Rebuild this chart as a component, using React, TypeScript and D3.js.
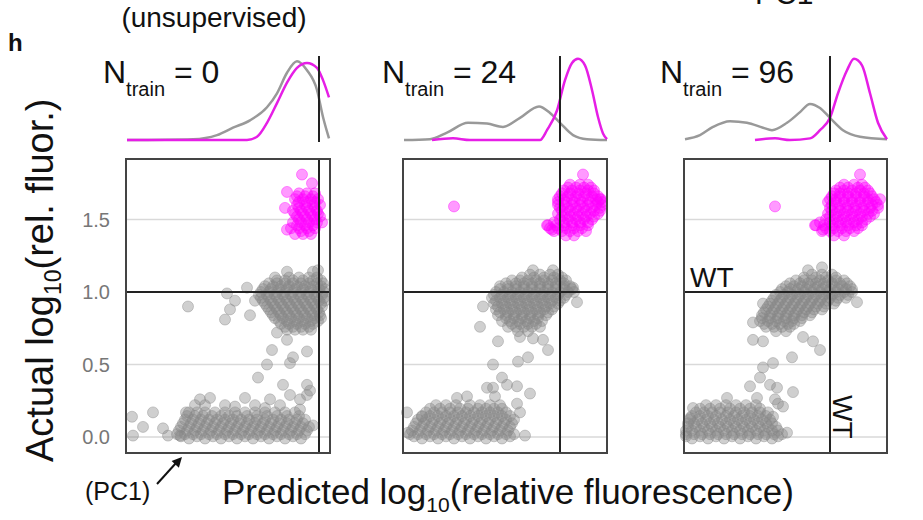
import React from "react";
import * as d3 from "d3";

// ---------- DATA ----------
const trainSizes = ["0", "24", "96"];
const yTicks = [0.0, 0.5, 1.0, 1.5];
const wtValue = 1.0;
const xDomains: [number, number][] = [[-0.93, 1.11], [-0.57, 1.47], [-0.46, 1.57]];
const yDomain: [number, number] = [-0.11, 1.917];

// density curves [x, relative density]
const p1GrayDensity = [[-0.92,0],[-0.26,0.01],[-0.02,0.06],[0.14,0.15],[0.31,0.24],[0.48,0.40],[0.58,0.57],[0.68,0.82],[0.78,0.96],[0.88,0.85],[0.98,0.61],[1.04,0.28],[1.10,0.02]];
const p1PinkDensity = [[-0.92,0],[0.28,0],[0.38,0.04],[0.48,0.21],[0.58,0.45],[0.68,0.70],[0.78,0.88],[0.88,0.94],[0.98,0.88],[1.04,0.73],[1.10,0.52]];
const p2GrayDensity = [[-0.56,0],[-0.30,0.01],[-0.13,0.09],[0.08,0.21],[0.27,0.20],[0.43,0.16],[0.60,0.27],[0.79,0.41],[0.90,0.33],[1.00,0.21],[1.13,0.06],[1.27,0.01],[1.47,0]];
const p2PinkDensity = [[-0.28,0],[-0.07,0.02],[0.10,0],[0.80,0],[0.87,0.12],[0.97,0.36],[1.05,0.73],[1.12,0.94],[1.18,0.99],[1.25,0.91],[1.32,0.61],[1.38,0.28],[1.43,0.08],[1.47,0.01]];
const p3GrayDensity = [[-0.45,0.01],[-0.30,0.06],[-0.17,0.16],[0.00,0.23],[0.17,0.21],[0.33,0.15],[0.42,0.12],[0.57,0.21],[0.70,0.34],[0.80,0.44],[0.90,0.39],[1.00,0.27],[1.13,0.12],[1.30,0.04],[1.57,0.01]];
const p3PinkDensity = [[0.25,0],[0.45,0.02],[0.60,0],[0.80,0.02],[0.90,0.12],[1.00,0.27],[1.08,0.57],[1.17,0.85],[1.24,0.99],[1.32,0.91],[1.40,0.57],[1.48,0.21],[1.57,0.01]];

// scatter clusters as rows: [actual y, predicted x values]
type Row = [number, number[]];
const p1PinkRows: Row[] = [
  [1.68,[0.80,0.88,0.96]],[1.64,[0.76,0.84,0.92,0.99]],[1.60,[0.78,0.86,0.94,1.01]],
  [1.56,[0.74,0.82,0.90,0.98]],[1.52,[0.78,0.86,0.94,1.01]],[1.48,[0.74,0.82,0.90,0.98]],
  [1.44,[0.72,0.80,0.88,0.96]],[1.40,[0.76,0.84,0.92]],
  [1.66,[0.78,0.86,0.94]],[1.62,[0.80,0.88,0.96]],[1.58,[0.80,0.88,0.96]],[1.54,[0.76,0.84,0.92,0.99]],
  [1.50,[0.80,0.88,0.96]],[1.46,[0.78,0.86,0.94]],[1.42,[0.82,0.90]]];
const p1PinkLoose = [[0.83,1.81],[0.68,1.69],[0.66,1.58],[0.68,1.43],[1.03,1.48],[0.93,1.75]];
const p1GrayRows: Row[] = [
  [1.10,[0.70,0.80,0.90,0.98]],
  [1.06,[0.50,0.58,0.66,0.74,0.82,0.90,0.98,1.04]],
  [1.02,[0.44,0.52,0.60,0.68,0.76,0.84,0.92,1.00,1.06]],
  [0.98,[0.40,0.48,0.56,0.64,0.72,0.80,0.88,0.96,1.03]],
  [0.94,[0.44,0.52,0.60,0.68,0.76,0.84,0.92,1.00,1.06]],
  [0.90,[0.48,0.56,0.64,0.72,0.80,0.88,0.96,1.03]],
  [0.86,[0.52,0.60,0.68,0.76,0.84,0.92,1.00]],
  [0.82,[0.56,0.64,0.72,0.80,0.88,0.96,1.02]],
  [0.78,[0.62,0.70,0.78,0.86,0.94]],
  [0.74,[0.68,0.76,0.84,0.92]],
  [1.08,[0.58,0.66,0.74,0.84,0.94,1.02]],
  [1.04,[0.46,0.54,0.62,0.70,0.78,0.86,0.94,1.02]],
  [1.00,[0.42,0.50,0.58,0.66,0.74,0.82,0.90,0.98,1.05]],
  [0.96,[0.42,0.50,0.58,0.66,0.74,0.82,0.90,0.98,1.05]],
  [0.92,[0.46,0.54,0.62,0.70,0.78,0.86,0.94,1.02]],
  [0.88,[0.50,0.58,0.66,0.74,0.82,0.90,0.98]],
  [0.84,[0.54,0.62,0.70,0.78,0.86,0.94,1.01]],
  [0.80,[0.60,0.68,0.76,0.84,0.92,0.99]],
  [0.76,[0.66,0.74,0.82,0.90]],
  [0.17,[-0.30,-0.22,-0.14,-0.04,0.06,0.16,0.26,0.36,0.46,0.56,0.66,0.76]],
  [0.12,[-0.34,-0.26,-0.18,-0.10,-0.02,0.06,0.14,0.22,0.30,0.38,0.46,0.54,0.62,0.70,0.78,0.86]],
  [0.07,[-0.38,-0.30,-0.22,-0.14,-0.06,0.02,0.10,0.18,0.26,0.34,0.42,0.50,0.58,0.66,0.74,0.82,0.90]],
  [0.02,[-0.42,-0.34,-0.26,-0.18,-0.10,-0.02,0.06,0.14,0.22,0.30,0.38,0.46,0.54,0.62,0.70,0.78,0.86]],
  [-0.01,[-0.30,-0.14,0.02,0.18,0.34,0.50,0.66,0.82]],
  [0.145,[-0.32,-0.24,-0.16,-0.07,0.02,0.10,0.18,0.28,0.38,0.48,0.58,0.68,0.80]],
  [0.095,[-0.36,-0.28,-0.20,-0.12,-0.04,0.04,0.12,0.20,0.28,0.36,0.44,0.52,0.60,0.68,0.76,0.84]],
  [0.045,[-0.40,-0.32,-0.24,-0.16,-0.08,0.00,0.08,0.16,0.24,0.32,0.40,0.48,0.56,0.64,0.72,0.80,0.88]],
  [0.005,[-0.38,-0.22,-0.06,0.10,0.26,0.42,0.58,0.74]]];
const p1GrayLoose = [[-0.31,0.90],[0.08,0.99],[0.11,0.88],[0.06,0.81],[0.16,0.94],[0.28,1.03],[0.36,0.94],[0.31,0.84],[0.68,1.14],[0.94,1.14],[0.99,1.15],[0.56,1.10],
  [0.58,0.72],[0.68,0.67],[0.88,0.59],[0.74,0.55],[0.71,0.51],[0.48,0.50],[0.39,0.41],[0.64,0.36],[0.88,0.36],[0.88,0.29],[0.81,0.26],[0.91,0.32],[0.53,0.60],
  [-0.87,0.14],[-0.86,0.01],[-0.76,0.07],[-0.66,0.17],[-0.56,0.06],[-0.51,0.01],[-0.39,0.01],[-0.33,0.17],[-0.19,0.26],[-0.09,0.27],[-0.24,0.22],[0.06,0.22],[0.26,0.27],[0.51,0.26],[0.71,0.29],[0.81,0.19],[0.94,0.08],
  [-0.14,0.22],[0.16,0.21],[0.36,0.22],[0.46,0.20],[0.61,0.22]];

const p2PinkRows: Row[] = [
  [1.74,[1.10,1.20,1.28]],[1.70,[1.04,1.12,1.20,1.28,1.34]],[1.66,[1.00,1.08,1.16,1.24,1.32,1.38]],
  [1.62,[0.98,1.06,1.14,1.22,1.30,1.38,1.42]],[1.58,[1.00,1.08,1.16,1.24,1.32,1.40]],
  [1.54,[0.98,1.06,1.14,1.22,1.30,1.38]],[1.50,[1.00,1.08,1.16,1.24,1.32]],
  [1.46,[0.88,0.96,1.04,1.12,1.20,1.28]],[1.42,[0.94,1.02,1.10,1.18,1.26]],[1.39,[1.06,1.14]],
  [1.72,[1.08,1.16,1.24,1.31]],[1.68,[1.02,1.10,1.18,1.26,1.34]],[1.64,[0.98,1.04,1.12,1.20,1.28,1.36,1.41]],
  [1.60,[0.98,1.04,1.12,1.20,1.28,1.36,1.42]],[1.56,[1.02,1.10,1.18,1.26,1.34,1.40]],[1.52,[1.02,1.10,1.18,1.26,1.34]],
  [1.48,[0.94,1.04,1.12,1.20,1.28]],[1.44,[0.90,0.98,1.06,1.14,1.22]]];
const p2PinkLoose = [[-0.06,1.59],[1.23,1.81],[1.40,1.64],[0.87,1.46],[0.92,1.43]];
const p2GrayRows: Row[] = [
  [1.12,[0.70,0.80,0.90,0.98]],
  [1.08,[0.52,0.60,0.68,0.76,0.84,0.92,1.00,1.06]],
  [1.04,[0.40,0.48,0.56,0.64,0.72,0.80,0.88,0.96,1.04,1.10]],
  [1.00,[0.36,0.44,0.52,0.60,0.68,0.76,0.84,0.92,1.00,1.08,1.14]],
  [0.96,[0.32,0.40,0.48,0.56,0.64,0.72,0.80,0.88,0.96,1.04]],
  [0.92,[0.34,0.42,0.50,0.58,0.66,0.74,0.82,0.90,0.98]],
  [0.88,[0.36,0.44,0.52,0.60,0.68,0.76,0.84,0.92]],
  [0.84,[0.38,0.46,0.54,0.62,0.70,0.78,0.86]],
  [0.80,[0.42,0.50,0.58,0.66,0.74,0.82]],
  [0.76,[0.48,0.56,0.64,0.72,0.80]],
  [0.73,[0.58,0.68]],
  [1.10,[0.62,0.74,0.84,0.94,1.02]],
  [1.06,[0.46,0.56,0.64,0.72,0.80,0.88,0.96,1.04]],
  [1.02,[0.40,0.48,0.56,0.64,0.72,0.80,0.88,0.96,1.04,1.12]],
  [0.98,[0.34,0.42,0.50,0.58,0.66,0.74,0.82,0.90,0.98,1.06]],
  [0.94,[0.36,0.44,0.52,0.60,0.68,0.76,0.84,0.92,1.00]],
  [0.90,[0.38,0.46,0.54,0.62,0.70,0.78,0.86,0.94]],
  [0.86,[0.40,0.48,0.56,0.64,0.72,0.80,0.88]],
  [0.82,[0.46,0.54,0.62,0.70,0.78]],
  [0.78,[0.52,0.60,0.68,0.76]],
  [0.22,[-0.24,-0.14,-0.04,0.10,0.20,0.30,0.40]],
  [0.17,[-0.34,-0.26,-0.18,-0.10,-0.02,0.06,0.14,0.22,0.30,0.38,0.46]],
  [0.12,[-0.42,-0.34,-0.26,-0.18,-0.10,-0.02,0.06,0.14,0.22,0.30,0.38,0.46,0.54]],
  [0.07,[-0.46,-0.38,-0.30,-0.22,-0.14,-0.06,0.02,0.10,0.18,0.26,0.34,0.42,0.50]],
  [0.02,[-0.50,-0.42,-0.34,-0.26,-0.18,-0.10,-0.02,0.06,0.14,0.22,0.30,0.38,0.46,0.54]],
  [-0.01,[-0.38,-0.22,-0.06,0.10,0.26,0.42]],
  [0.195,[-0.30,-0.20,-0.10,0.00,0.08,0.18,0.26,0.34,0.42]],
  [0.145,[-0.38,-0.30,-0.22,-0.14,-0.06,0.02,0.10,0.18,0.26,0.34,0.42,0.50]],
  [0.095,[-0.44,-0.36,-0.28,-0.20,-0.12,-0.04,0.04,0.12,0.20,0.28,0.36,0.44,0.52]],
  [0.045,[-0.48,-0.40,-0.32,-0.24,-0.16,-0.08,0.00,0.08,0.16,0.24,0.32,0.40,0.48]],
  [0.005,[-0.46,-0.30,-0.14,0.02,0.18,0.34,0.50]]];
const p2GrayLoose = [[0.23,0.90],[0.20,0.76],[1.17,0.93],[1.13,1.03],[0.73,1.15],[0.93,1.15],
  [0.38,0.66],[0.60,0.69],[0.73,0.68],[0.83,0.67],[0.88,0.60],[0.68,0.55],[0.58,0.52],[0.33,0.50],[0.42,0.41],[0.27,0.34],[0.47,0.36],[0.57,0.35],[0.70,0.30],[0.35,0.28],
  [-0.53,0.17],[-0.52,0.03],[-0.38,0.14],[-0.03,0.27],[0.07,0.28],[0.33,0.34],[0.60,0.17],[0.65,0.01],[0.57,0.23]];

const p3PinkRows: Row[] = [
  [1.74,[1.14,1.24,1.32]],[1.70,[1.06,1.14,1.22,1.30,1.38]],[1.66,[1.02,1.10,1.18,1.26,1.34,1.42]],
  [1.62,[0.98,1.06,1.14,1.22,1.30,1.38,1.46]],[1.58,[1.00,1.08,1.16,1.24,1.32,1.40,1.48]],
  [1.54,[0.98,1.06,1.14,1.22,1.30,1.38,1.44]],[1.50,[0.96,1.04,1.12,1.20,1.28,1.36]],
  [1.46,[0.86,0.94,1.02,1.10,1.18,1.26,1.32]],[1.42,[0.92,1.00,1.08,1.16,1.24]],[1.39,[1.04,1.14]],
  [1.72,[1.10,1.18,1.28,1.35]],[1.68,[1.04,1.10,1.18,1.26,1.34,1.40]],[1.64,[1.00,1.06,1.14,1.22,1.30,1.38,1.44]],
  [1.60,[1.02,1.10,1.18,1.26,1.34,1.42,1.48]],[1.56,[1.02,1.10,1.18,1.26,1.34,1.42]],[1.52,[1.00,1.08,1.16,1.24,1.32,1.40]],
  [1.48,[0.90,1.00,1.08,1.16,1.24,1.32]],[1.44,[0.96,1.04,1.12,1.20,1.28]]];
const p3PinkLoose = [[0.45,1.59],[1.30,1.81],[1.50,1.64],[0.85,1.46],[0.93,1.43]];
const p3GrayRows: Row[] = [
  [1.12,[0.82,0.92,1.02]],
  [1.08,[0.66,0.74,0.82,0.90,0.98,1.06,1.14]],
  [1.04,[0.56,0.64,0.72,0.80,0.88,0.96,1.04,1.12,1.20]],
  [1.00,[0.50,0.58,0.66,0.74,0.82,0.90,0.98,1.06,1.14,1.22]],
  [0.96,[0.44,0.52,0.60,0.68,0.76,0.84,0.92,1.00,1.08,1.16]],
  [0.92,[0.40,0.48,0.56,0.64,0.72,0.80,0.88,0.96,1.04]],
  [0.88,[0.36,0.44,0.52,0.60,0.68,0.76,0.84,0.92]],
  [0.84,[0.32,0.40,0.48,0.56,0.64,0.72,0.80]],
  [0.80,[0.30,0.38,0.46,0.54,0.62,0.70]],
  [0.76,[0.36,0.44,0.52,0.60]],
  [0.73,[0.46,0.56]],
  [1.10,[0.74,0.86,0.96,1.06]],
  [1.06,[0.60,0.70,0.78,0.86,0.94,1.02,1.10,1.17]],
  [1.02,[0.52,0.60,0.68,0.76,0.84,0.92,1.00,1.08,1.16,1.22]],
  [0.98,[0.46,0.54,0.62,0.70,0.78,0.86,0.94,1.02,1.10,1.18]],
  [0.94,[0.42,0.50,0.58,0.66,0.74,0.82,0.90,0.98,1.06]],
  [0.90,[0.38,0.46,0.54,0.62,0.70,0.78,0.86,0.94]],
  [0.86,[0.34,0.42,0.50,0.58,0.66,0.74,0.82]],
  [0.82,[0.32,0.40,0.48,0.56,0.64,0.72]],
  [0.78,[0.34,0.42,0.50,0.58,0.64]],
  [0.22,[-0.24,-0.14,-0.04,0.06,0.16,0.26]],
  [0.17,[-0.34,-0.26,-0.18,-0.10,-0.02,0.06,0.14,0.22,0.30,0.38]],
  [0.12,[-0.40,-0.32,-0.24,-0.16,-0.08,0.00,0.08,0.16,0.24,0.32,0.40]],
  [0.07,[-0.42,-0.34,-0.26,-0.18,-0.10,-0.02,0.06,0.14,0.22,0.30,0.38,0.46]],
  [0.02,[-0.44,-0.36,-0.28,-0.20,-0.12,-0.04,0.04,0.12,0.20,0.28,0.36,0.44,0.52]],
  [-0.01,[-0.38,-0.22,-0.06,0.10,0.26,0.42]],
  [0.195,[-0.30,-0.20,-0.10,0.00,0.10,0.20,0.30]],
  [0.145,[-0.38,-0.30,-0.22,-0.14,-0.04,0.04,0.12,0.20,0.28,0.36]],
  [0.095,[-0.42,-0.36,-0.28,-0.20,-0.12,-0.04,0.04,0.12,0.20,0.28,0.36,0.42]],
  [0.045,[-0.44,-0.38,-0.30,-0.22,-0.14,-0.06,0.02,0.10,0.18,0.26,0.34,0.42,0.48]],
  [0.005,[-0.44,-0.30,-0.14,0.02,0.18,0.34,0.48]]];
const p3GrayLoose = [[0.23,0.79],[0.33,0.92],[1.27,0.93],[0.78,1.15],[0.92,1.17],
  [0.23,0.67],[0.33,0.66],[0.73,0.69],[0.83,0.66],[0.90,0.60],[0.62,0.55],[0.43,0.51],[0.33,0.48],[0.30,0.41],[0.20,0.35],[0.40,0.36],[0.47,0.34],[0.63,0.31],[0.45,0.26],
  [-0.37,0.20],[-0.40,0.13],[-0.03,0.27],[0.27,0.27],[0.48,0.23],[0.53,0.21],[0.57,0.03],[0.43,0.14]];

const panelData = [
  { grayRows: p1GrayRows, grayLoose: p1GrayLoose, pinkRows: p1PinkRows, pinkLoose: p1PinkLoose, grayDen: p1GrayDensity, pinkDen: p1PinkDensity },
  { grayRows: p2GrayRows, grayLoose: p2GrayLoose, pinkRows: p2PinkRows, pinkLoose: p2PinkLoose, grayDen: p2GrayDensity, pinkDen: p2PinkDensity },
  { grayRows: p3GrayRows, grayLoose: p3GrayLoose, pinkRows: p3PinkRows, pinkLoose: p3PinkLoose, grayDen: p3GrayDensity, pinkDen: p3PinkDensity },
];

// ---------- LAYOUT ----------
const W = 923, H = 520;
const panelX = [[126, 330], [403, 607], [684, 887]];
const titleX = [103, 382, 660];
const scatterTop = 159, scatterBottom = 453;
const denTop = 58, denBase = 140;
const FONT = "'Liberation Sans', Arial, Helvetica, sans-serif";
const GRAY = "#888888";
const PINK = "#ff00ff";

function rowsToPoints(rows: Row[]): number[][] {
  const out: number[][] = [];
  rows.forEach(([y, xs]) => xs.forEach((x) => out.push([x, y])));
  return out;
}

export default function App() {
  const y = d3.scaleLinear().domain(yDomain).range([scatterBottom, scatterTop]);
  const dy = d3.scaleLinear().domain([0, 1]).range([denBase, denTop]);

  return (
    <svg width={W} height={H} style={{ position: "absolute", left: 0, top: 0, background: "#fff" }} fontFamily={FONT}>
      <rect x={0} y={0} width={W} height={H} fill="#fff" />
      <text x={755} y={4} fontSize={30} fill="#111">PC1</text>
      <text x={214} y={27} fontSize={28} textAnchor="middle" fill="#111">(unsupervised)</text>
      <text x={8} y={51} fontSize={24} fontWeight="bold" fill="#111">h</text>

      {panelData.map((pd, i) => {
        const [l, r] = panelX[i];
        const x = d3.scaleLinear().domain(xDomains[i]).range([l, r]);
        const line = d3.line<number[]>().x((d) => x(d[0])).y((d) => dy(d[1])).curve(d3.curveMonotoneX);
        const gray = [...rowsToPoints(pd.grayRows), ...pd.grayLoose];
        const pink = [...rowsToPoints(pd.pinkRows), ...pd.pinkLoose];
        const wx = x(wtValue);
        return (
          <g key={i}>
            <text x={titleX[i]} y={83} fontSize={32} fill="#111">
              N<tspan fontSize={20} dy={13}>train</tspan><tspan dy={-13}> = {trainSizes[i]}</tspan>
            </text>
            {/* density */}
            <path d={line(pd.grayDen) || ""} fill="none" stroke="#999" strokeWidth={2.5} />
            <path d={line(pd.pinkDen) || ""} fill="none" stroke="#e61ee6" strokeWidth={2.5} />
            <line x1={wx} x2={wx} y1={56} y2={142} stroke="#222" strokeWidth={2} />
            {/* scatter grid */}
            {yTicks.filter((t) => t !== wtValue).map((t) => (
              <line key={t} x1={l} x2={r} y1={y(t)} y2={y(t)} stroke="#d9d9d9" strokeWidth={1.5} />
            ))}
            {gray.map((p, k) => (
              <circle key={"g" + k} cx={x(p[0])} cy={y(p[1])} r={5.5} fill={GRAY} fillOpacity={0.4} stroke={GRAY} strokeOpacity={0.4} strokeWidth={1} />
            ))}
            {pink.map((p, k) => (
              <circle key={"m" + k} cx={x(p[0])} cy={y(p[1])} r={5.5} fill={PINK} fillOpacity={0.4} stroke={PINK} strokeOpacity={0.4} strokeWidth={1} />
            ))}
            <line x1={l} x2={r} y1={y(wtValue)} y2={y(wtValue)} stroke="#222" strokeWidth={2} />
            <line x1={wx} x2={wx} y1={scatterTop} y2={scatterBottom} stroke="#222" strokeWidth={2} />
            <rect x={l} y={scatterTop} width={r - l} height={scatterBottom - scatterTop} fill="none" stroke="#444" strokeWidth={2} />
            {i === 0 && yTicks.map((t) => (
              <text key={t} x={l - 16} y={y(t)} dy="0.36em" fontSize={20} textAnchor="end" fill="#777">{t.toFixed(1)}</text>
            ))}
            {i === 2 && (
              <g>
                <text x={l + 6} y={y(wtValue) - 5} fontSize={28} fill="#111">WT</text>
                <text transform={`translate(${wx + 3},${y(0.29)}) rotate(90)`} fontSize={28} fill="#111">WT</text>
              </g>
            )}
          </g>
        );
      })}

      <text transform="translate(53,462) rotate(-90)" fontSize={38} fill="#111">
        Actual log<tspan fontSize={23} dy={8}>10</tspan><tspan dy={-8}>(rel. fluor.)</tspan>
      </text>
      <text x={222} y={504} fontSize={35} fill="#111">
        Predicted log<tspan fontSize={21} dy={8}>10</tspan><tspan dy={-8}>(relative fluorescence)</tspan>
      </text>
      <text x={85} y={500} fontSize={25} fill="#111">(PC1)</text>
      <line x1={157} y1={484} x2={176} y2={463} stroke="#111" strokeWidth={2} />
      <polygon points="182,457 178.9,467.7 171.6,460.9" fill="#111" />
    </svg>
  );
}
